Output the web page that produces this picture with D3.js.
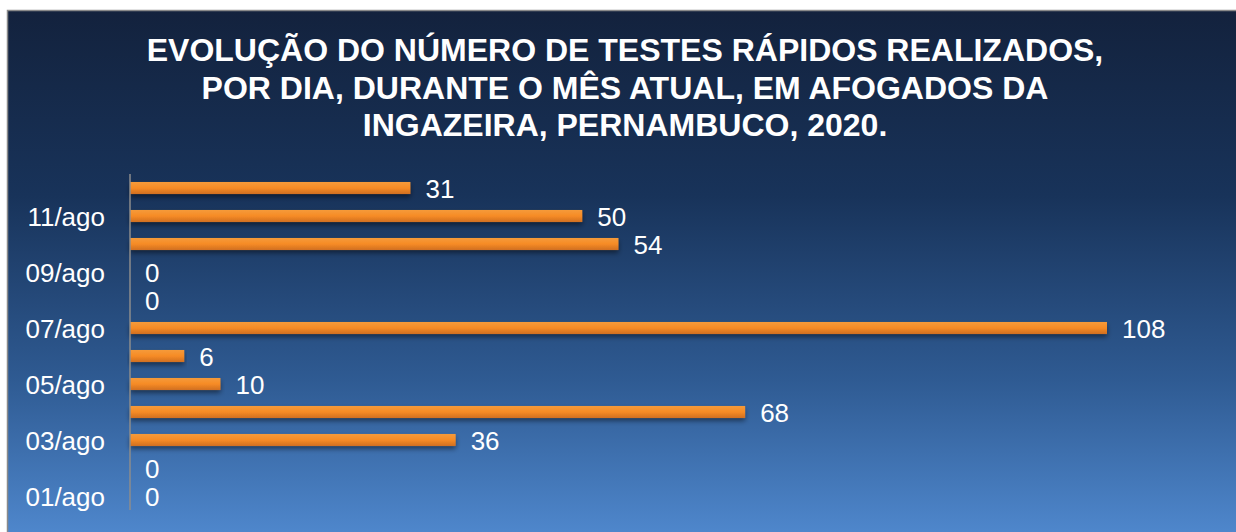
<!DOCTYPE html>
<html><head><meta charset="utf-8">
<script src="https://cdn.jsdelivr.net/npm/d3@7"></script>
<style>html,body{margin:0;padding:0;background:#fff;overflow:hidden}</style>
</head><body>
<svg id="c" width="1236" height="532"></svg>
<script>
const categories = ["01/ago","02/ago","03/ago","04/ago","05/ago","06/ago","07/ago","08/ago","09/ago","10/ago","11/ago","12/ago"];
const values = [0,0,36,68,10,6,108,0,0,54,50,31];
const tickLabels = ["01/ago","03/ago","05/ago","07/ago","09/ago","11/ago"];
const titleLines = ["EVOLUÇÃO DO NÚMERO DE TESTES RÁPIDOS REALIZADOS,","POR DIA, DURANTE O MÊS ATUAL, EM AFOGADOS DA","INGAZEIRA, PERNAMBUCO, 2020."];

const svg = d3.select("#c");
const defs = svg.append("defs");
const bg = defs.append("linearGradient").attr("id","bg").attr("x1",0).attr("y1",0).attr("x2",0).attr("y2",1);
bg.append("stop").attr("offset","0%").attr("stop-color","#13223D");
bg.append("stop").attr("offset","35%").attr("stop-color","#18335A");
bg.append("stop").attr("offset","70%").attr("stop-color","#2F5B93");
bg.append("stop").attr("offset","100%").attr("stop-color","#5089CF");
const bar = defs.append("linearGradient").attr("id","bar").attr("x1",0).attr("y1",0).attr("x2",0).attr("y2",1);
bar.append("stop").attr("offset","0%").attr("stop-color","#F59A3A");
bar.append("stop").attr("offset","50%").attr("stop-color","#F68B26");
bar.append("stop").attr("offset","100%").attr("stop-color","#D06F20");
const f = defs.append("filter").attr("id","sh").attr("x","-5%").attr("y","-50%").attr("width","110%").attr("height","250%");
f.append("feDropShadow").attr("dx",0).attr("dy",3).attr("stdDeviation",2.5).attr("flood-color","#000").attr("flood-opacity",0.45);

svg.append("rect").attr("x",7.5).attr("y",10.5).attr("width",1240).attr("height",530)
  .attr("fill","url(#bg)").attr("stroke","#8a8a8a").attr("stroke-width",1.5);

const title = svg.append("text").attr("x",625).attr("y",61).attr("text-anchor","middle")
  .attr("fill","#fff").attr("font-family","Liberation Sans, Arial, sans-serif")
  .attr("font-weight","bold").attr("font-size",32);
titleLines.forEach((t,i)=>title.append("tspan").attr("x",625).attr("y",61+i*37.5).text(t));

const x = d3.scaleLinear().domain([0,108]).range([130,1107]);
const y = d3.scaleBand().domain(categories).range([510,174]).paddingInner(0.57).paddingOuter(0.285);

svg.append("g").selectAll("rect").data(categories).join("rect")
  .attr("x",x(0)).attr("y",d=>y(d)).attr("height",y.bandwidth())
  .attr("width",(d,i)=>x(values[i])-x(0))
  .attr("fill","url(#bar)").attr("filter","url(#sh)");

svg.append("line").attr("x1",130).attr("x2",130).attr("y1",174).attr("y2",510)
  .attr("stroke","#8c8c8c").attr("stroke-width",1.5);

svg.append("g").selectAll("text").data(categories).join("text")
  .attr("x",(d,i)=>x(values[i])+15).attr("y",d=>y(d)+y.bandwidth()/2+9.5)
  .attr("fill","#fff").attr("font-family","Liberation Sans, Arial, sans-serif").attr("font-size",26)
  .text((d,i)=>values[i]);

svg.append("g").selectAll("text").data(tickLabels).join("text")
  .attr("x",105).attr("y",d=>y(d)+y.bandwidth()/2+9.5).attr("text-anchor","end")
  .attr("fill","#fff").attr("font-family","Liberation Sans, Arial, sans-serif").attr("font-size",26)
  .text(d=>d);
</script>
</body></html>
